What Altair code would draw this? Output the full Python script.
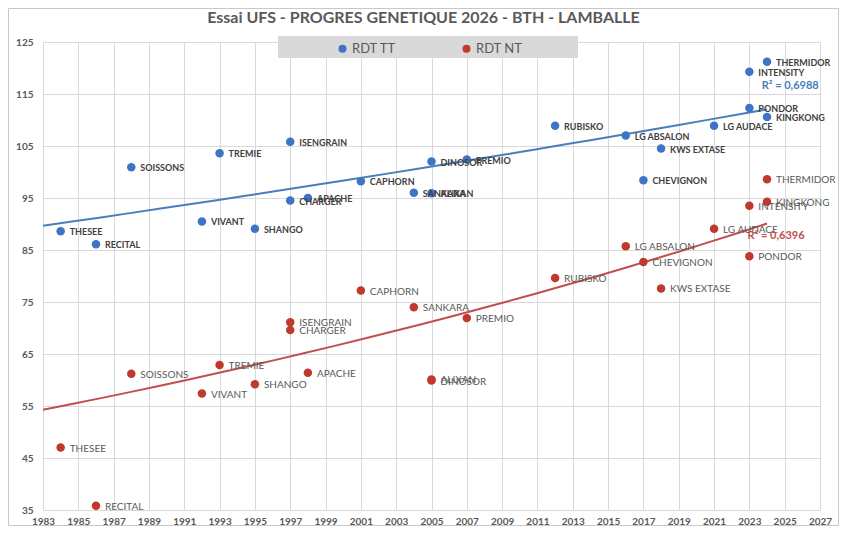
import altair as alt
import pandas as pd

names = ["THESEE", "RECITAL", "SOISSONS", "VIVANT", "TREMIE", "SHANGO", "ISENGRAIN",
         "CHARGER", "APACHE", "CAPHORN", "SANKARA", "ALIXAN", "DINOSOR", "PREMIO",
         "RUBISKO", "LG ABSALON", "CHEVIGNON", "KWS EXTASE", "LG AUDACE", "PONDOR",
         "INTENSITY", "KINGKONG", "THERMIDOR"]
years = [1984, 1986, 1988, 1992, 1993, 1995, 1997, 1997, 1998, 2001, 2004, 2005, 2005,
         2007, 2012, 2016, 2017, 2018, 2021, 2023, 2023, 2024, 2024]
rdt_tt = [88.6, 86.1, 100.9, 90.5, 103.6, 89.1, 105.8, 94.5, 95.0, 98.2, 96.0, 95.9, 102.0,
          102.4, 108.9, 107.0, 98.4, 104.5, 108.9, 112.3, 119.3, 110.6, 121.2]
rdt_nt = [47.0, 35.8, 61.2, 57.4, 62.9, 59.2, 71.1, 69.6, 61.4, 77.2, 74.0, 60.1, 59.9,
          71.9, 79.6, 85.7, 82.7, 77.6, 89.1, 83.8, 93.5, 94.3, 98.6]

# trendline values (exponential trendlines)
trend_years_tt = [1983, 1993, 2005, 2017, 2024]
trend_tt = [89.7, 94.6, 101.1, 107.8, 112.1]
trend_years_nt = [1983, 1993, 2001, 2005, 2017, 2024]
trend_nt = [54.2, 61.5, 67.7, 71.3, 82.7, 90.0]

series_names = ["RDT TT", "RDT NT"]
series_colors = ["#3d74c4", "#c0392f"]
trend_colors = ["#4a7ebb", "#c0504d"]
r2_texts = ["R² = 0,6988", "R² = 0,6396"]
r2_years = [2023.7, 2022.9]
r2_values = [116.6, 87.6]

x_ticks = list(range(1983, 2028, 2))
y_ticks = list(range(35, 126, 10))

rows = []
for n, yr, tt, nt in zip(names, years, rdt_tt, rdt_nt):
    rows.append({"name": n, "year": yr, "value": tt, "series": "RDT TT"})
    rows.append({"name": n, "year": yr, "value": nt, "series": "RDT NT"})
df = pd.DataFrame(rows)

trend_df = pd.DataFrame(
    [{"year": y, "value": v, "series": "RDT TT"} for y, v in zip(trend_years_tt, trend_tt)]
    + [{"year": y, "value": v, "series": "RDT NT"} for y, v in zip(trend_years_nt, trend_nt)])
r2_df = pd.DataFrame({"txt": r2_texts, "year": r2_years, "value": r2_values,
                      "series": series_names})

FONT = "Lato"
GREY = "#595959"

x_enc = alt.X("year:Q", scale=alt.Scale(domain=[1983, 2027], nice=False, zero=False),
              axis=alt.Axis(values=x_ticks, format="d", title=None, grid=True,
                            domain=False, ticks=False, labelPadding=6, labelFlush=False,
                            labelOverlap=False, labelFontWeight="bold", labelColor=GREY,
                            labelFontSize=10, gridColor="#d9d9d9"))
y_enc = alt.Y("value:Q", scale=alt.Scale(domain=[35, 125], nice=False, zero=False),
              axis=alt.Axis(values=y_ticks, title=None, grid=True, domain=False,
                            ticks=False, labelPadding=10, labelFlush=False,
                            labelOverlap=False, labelFontWeight="bold",
                            labelColor=GREY, labelFontSize=10, gridColor="#d9d9d9"))
color_scale = alt.Scale(domain=series_names, range=series_colors)

W, H = 777, 468
PL, PT, PR, PB = 35, 34, 19, 16

base = alt.Chart(df)
one = pd.DataFrame({"a": [0]})

border = alt.Chart(one).mark_rect(fill=None, stroke="#c8c8c8", strokeWidth=1).encode(
    x=alt.value(-PL + 0.5), x2=alt.value(W + PR - 0.5),
    y=alt.value(-PT + 0.5), y2=alt.value(H + PB - 0.5))

legend_box = alt.Chart(one).mark_rect(fill="#d9d9d9", stroke=None).encode(
    x=alt.value(235), x2=alt.value(535), y=alt.value(-6), y2=alt.value(16))

layers = [border, legend_box]
for s, c in zip(series_names, trend_colors):
    layers.append(
        alt.Chart(trend_df).transform_filter(alt.datum.series == s).transform_regression(
            "year", "value", method="exp", extent=[1983, 2024]
        ).mark_line(strokeWidth=2, color=c).encode(x=x_enc, y=y_enc))

points = base.mark_point(filled=True, size=72, opacity=1).encode(
    x=x_enc, y=y_enc,
    color=alt.Color("series:N", scale=color_scale,
                    legend=alt.Legend(title=None, orient="none", legendX=293, legendY=0,
                                      direction="horizontal", symbolType="circle",
                                      symbolSize=64, labelFontSize=13, labelColor=GREY,
                                      labelFont=FONT, columnPadding=64, padding=0,
                                      labelOffset=3)),
)
layers.append(points)

layers.append(base.transform_filter(alt.datum.series == "RDT TT").mark_text(
    align="left", baseline="middle", dx=9, dy=1, fontSize=9, fontWeight="bold",
    color="#404040", font=FONT).encode(x=x_enc, y=y_enc, text="name:N"))

layers.append(base.transform_filter(alt.datum.series == "RDT NT").mark_text(
    align="left", baseline="middle", dx=9, dy=1, fontSize=10, color="#595959",
    font=FONT).encode(x=x_enc, y=y_enc, text="name:N"))

for s, c in zip(series_names, trend_colors):
    layers.append(alt.Chart(r2_df).transform_filter(alt.datum.series == s).mark_text(
        align="left", baseline="middle", fontSize=11, fontWeight="bold", font=FONT,
        color=c).encode(x=x_enc, y=y_enc, text="txt:N"))

chart = alt.layer(*layers).properties(
    width=W, height=H,
    padding={"left": PL, "top": PT, "right": PR, "bottom": PB},
    autosize="none",
    title=alt.TitleParams("Essai UFS - PROGRES GENETIQUE 2026 - BTH - LAMBALLE",
                          fontSize=16, fontWeight="bold", color=GREY, font=FONT,
                          anchor="middle", frame="group", offset=0, dy=18, dx=-8),
).configure_view(stroke=None).configure(font=FONT).configure_axis(labelFont=FONT)

chart.save("out.html", embed_options={"renderer": "svg", "actions": False})
